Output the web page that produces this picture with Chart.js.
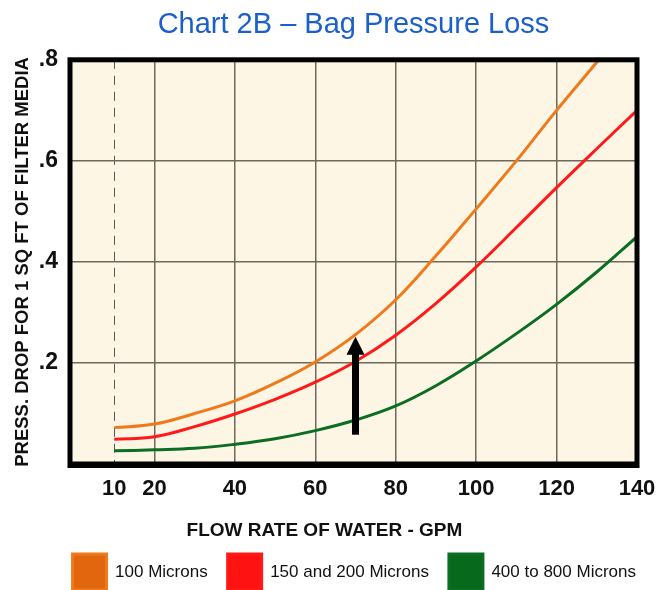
<!DOCTYPE html>
<html>
<head>
<meta charset="utf-8">
<script src="https://cdn.jsdelivr.net/npm/chart.js@4.4.1/dist/chart.umd.min.js"></script>
<style>
  html, body { margin: 0; padding: 0; background: #fff; overflow: hidden; }
</style>
</head>
<body>
<canvas id="bagChart" width="656" height="600"></canvas>
<script>
// values (GPM vs. psi drop per sq ft)
const flowRates = [10, 20, 30, 40, 50, 60, 70, 80, 90, 100, 110, 120, 130, 140];
const microns100 = [0.072, 0.079, 0.100, 0.125, 0.160, 0.202, 0.256, 0.325, 0.412, 0.505, 0.600, 0.700, 0.795, 0.890];
const microns150to200 = [0.049, 0.054, 0.074, 0.099, 0.128, 0.162, 0.203, 0.255, 0.318, 0.390, 0.468, 0.547, 0.624, 0.700];
const microns400to800 = [0.026, 0.028, 0.031, 0.039, 0.050, 0.066, 0.087, 0.115, 0.155, 0.204, 0.258, 0.316, 0.380, 0.450];
const xTicks = [10, 20, 40, 60, 80, 100, 120, 140];
const yTicks = [0.2, 0.4, 0.6, 0.8];
const arrowFlow = 70;
const arrowRange = [0.058, 0.252];

const sans = '"Liberation Sans", Arial, sans-serif';

const toPoints = vals => flowRates.map((f, i) => ({ x: f, y: vals[i] }));

// cream plot background
const plotBackground = {
  id: 'plotBackground',
  beforeDraw(chart) {
    const { ctx, chartArea: a } = chart;
    ctx.save();
    ctx.fillStyle = '#FDF6E4';
    ctx.fillRect(a.left, a.top, a.right - a.left, a.bottom - a.top);
    ctx.restore();
  }
};

// heavy black frame and the marker arrow
const frameAndArrow = {
  id: 'frameAndArrow',
  afterDatasetsDraw(chart) {
    const { ctx, chartArea: a, scales: { x, y } } = chart;
    ctx.save();
    ctx.strokeStyle = '#000';
    ctx.lineWidth = 5;
    ctx.strokeRect(a.left, a.top, a.right - a.left, a.bottom - a.top);
    ctx.lineWidth = 2;
    ctx.beginPath();
    ctx.moveTo(a.left - 2.5, a.bottom + 3);
    ctx.lineTo(a.right + 2.5, a.bottom + 3);
    ctx.stroke();

    const px = x.getPixelForValue(arrowFlow);
    const yBase = y.getPixelForValue(arrowRange[0]);
    const yTip = y.getPixelForValue(arrowRange[1]);
    const head = 18;
    ctx.fillStyle = '#000';
    ctx.fillRect(px - 3.5, yTip + head - 1, 7, yBase - yTip - head + 1);
    ctx.beginPath();
    ctx.moveTo(px, yTip);
    ctx.lineTo(px - 9, yTip + head);
    ctx.lineTo(px + 9, yTip + head);
    ctx.closePath();
    ctx.fill();
    ctx.restore();
  }
};

const isTen = c => c.tick && c.tick.value === 10;

new Chart(document.getElementById('bagChart'), {
  type: 'line',
  data: {
    datasets: [
      {
        label: '100 Microns',
        data: toPoints(microns100),
        borderColor: '#EE7A1C',
        backgroundColor: '#E2660E',
        borderWidth: 3,
        pointRadius: 0,
        tension: 0.4
      },
      {
        label: '150 and 200 Microns',
        data: toPoints(microns150to200),
        borderColor: '#FF1A1A',
        backgroundColor: '#FF1212',
        borderWidth: 3,
        pointRadius: 0,
        tension: 0.4
      },
      {
        label: '400 to 800 Microns',
        data: toPoints(microns400to800),
        borderColor: '#0B6E23',
        backgroundColor: '#07691C',
        borderWidth: 3,
        pointRadius: 0,
        tension: 0.4
      }
    ]
  },
  options: {
    responsive: false,
    animation: false,
    layout: { padding: 0 },
    plugins: {
      title: {
        display: true,
        fullSize: false,
        text: 'Chart 2B – Bag Pressure Loss',
        color: '#1A5FCC',
        font: { family: sans, size: 29, weight: 'normal' },
        padding: { top: 8, bottom: 17 }
      },
      legend: {
        position: 'bottom',
        align: 'end',
        labels: {
          boxWidth: 34,
          boxHeight: 36,
          padding: 20,
          color: '#111',
          font: { family: sans, size: 17 }
        }
      },
      tooltip: { enabled: false }
    },
    scales: {
      x: {
        type: 'linear',
        min: -1,
        max: 140,
        afterFit: s => { s.height = 70; s.paddingRight = 19; },
        afterBuildTicks: s => { s.ticks = xTicks.map(v => ({ value: v })); },
        grid: {
          color: c => isTen(c) ? '#555' : '#6f685c',
          lineWidth: c => isTen(c) ? 1 : 1.5,
          drawTicks: false
        },
        border: { display: false, dash: c => isTen(c) ? [9, 7] : [] },
        ticks: {
          autoSkip: false,
          maxRotation: 0,
          padding: 12,
          color: '#111',
          font: { family: sans, size: 22, weight: 'bold' },
          callback: v => v
        },
        title: {
          display: true,
          // trailing spaces pull the centred title left, as in the source
          text: 'FLOW RATE OF WATER - GPM           ',
          color: '#111',
          font: { family: sans, size: 19, weight: 'bold' },
          padding: { top: 0, bottom: -8 }
        }
      },
      y: {
        min: 0,
        max: 0.8,
        afterFit: s => { s.width = 70; },
        afterBuildTicks: s => { s.ticks = yTicks.map(v => ({ value: v })); },
        grid: { color: '#6f685c', lineWidth: 1.5, drawTicks: false },
        border: { display: false },
        ticks: {
          padding: 12,
          color: '#111',
          font: { family: sans, size: 23, weight: 'bold' },
          callback: v => '.' + Math.round(v * 10)
        },
        title: {
          display: true,
          text: 'PRESS. DROP FOR 1 SQ FT OF FILTER MEDIA',
          color: '#111',
          font: { family: sans, size: 18.5, weight: 'bold' },
          padding: { top: 12, bottom: 0 }
        }
      }
    }
  },
  plugins: [plotBackground, frameAndArrow]
});
</script>
</body>
</html>
